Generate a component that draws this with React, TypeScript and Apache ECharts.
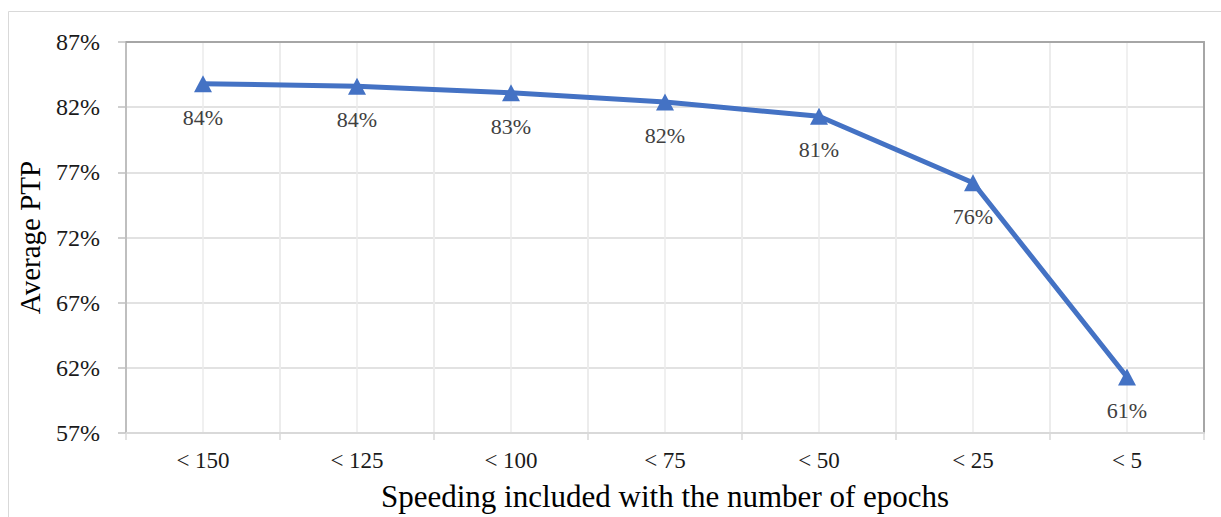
import React, { useEffect, useRef } from "react";
import * as echarts from "echarts";

// Speeding thresholds (epochs) and the average PTP reached for each
const categories = ["< 150", "< 125", "< 100", "< 75", "< 50", "< 25", "< 5"];
const averagePtp = [83.8, 83.6, 83.1, 82.4, 81.3, 76.2, 61.3];

const yMin = 57;
const yMax = 87;
const yStep = 5;

const xTitle = "Speeding included with the number of epochs";
const yTitle = "Average PTP";

const serif = "Liberation Serif";

export default function App() {
  const ref = useRef<HTMLDivElement>(null);

  useEffect(() => {
    if (!ref.current) return;
    const chart = echarts.init(ref.current, undefined, { renderer: "svg" });

    chart.setOption({
      animation: false,
      backgroundColor: "#ffffff",
      textStyle: { fontFamily: serif },
      grid: { left: 126, right: 17, top: 42, bottom: 80, containLabel: false },
      graphic: [
        {
          type: "rect",
          shape: { x: 8.5, y: 11.5, width: 1240, height: 600 },
          style: { fill: "none", stroke: "#d9d9d9", lineWidth: 1 },
          silent: true,
          z: -10,
        },
      ],
      xAxis: [
        {
          type: "category",
          data: categories,
          boundaryGap: true,
          axisLine: { lineStyle: { color: "#d9d9d9", width: 2 } },
          axisTick: { show: true, length: 7, lineStyle: { color: "#d9d9d9", width: 1.5 } },
          axisLabel: { color: "#1a1a1a", fontSize: 23, fontFamily: serif, margin: 16 },
          splitLine: { show: true, lineStyle: { color: "#ebebeb", width: 1.5 } },
          name: xTitle,
          nameLocation: "middle",
          nameGap: 48,
          nameTextStyle: { color: "#000", fontSize: 31, fontFamily: serif },
        },
        {
          // secondary scale only used for gridlines through the category centres and the top frame
          type: "value",
          position: "top",
          min: 0,
          max: categories.length * 2,
          interval: 1,
          axisLine: { show: true, onZero: false, lineStyle: { color: "#a6a6a6", width: 2 } },
          axisTick: { show: false },
          axisLabel: { show: false },
          splitLine: { show: true, lineStyle: { color: "#ebebeb", width: 1.5 } },
        },
      ],
      yAxis: [
        {
          type: "value",
          min: yMin,
          max: yMax,
          interval: yStep,
          axisLine: { show: true, lineStyle: { color: "#bfbfbf", width: 2 } },
          axisTick: { show: true, length: 8, lineStyle: { color: "#bfbfbf", width: 1.5 } },
          axisLabel: {
            formatter: "{value}%",
            color: "#1a1a1a",
            fontSize: 24,
            fontFamily: serif,
            margin: 26,
          },
          splitLine: { show: true, lineStyle: { color: "#d9d9d9", width: 1.5 } },
          name: yTitle,
          nameLocation: "middle",
          nameRotate: 90,
          nameGap: 82,
          nameTextStyle: { color: "#000", fontSize: 29, fontFamily: serif },
        },
        {
          type: "value",
          position: "right",
          min: yMin,
          max: yMax,
          interval: yStep,
          axisLine: { show: true, onZero: false, lineStyle: { color: "#a6a6a6", width: 2 } },
          axisTick: { show: false },
          axisLabel: { show: false },
          splitLine: { show: false },
        },
      ],
      series: [
        {
          type: "line",
          data: averagePtp,
          xAxisIndex: 0,
          yAxisIndex: 0,
          symbol: "triangle",
          symbolSize: [18, 17],
          lineStyle: { color: "#4472C4", width: 5 },
          itemStyle: { color: "#4472C4" },
          label: {
            show: true,
            position: "bottom",
            distance: 14,
            formatter: (p: any) => Math.round(p.value) + "%",
            color: "#404040",
            fontSize: 22,
            fontFamily: serif,
          },
          z: 5,
        },
      ],
    });

    return () => chart.dispose();
  }, []);

  return (
    <div
      ref={ref}
      style={{ position: "absolute", left: 0, top: 0, width: 1221, height: 517, background: "#fff" }}
    />
  );
}
